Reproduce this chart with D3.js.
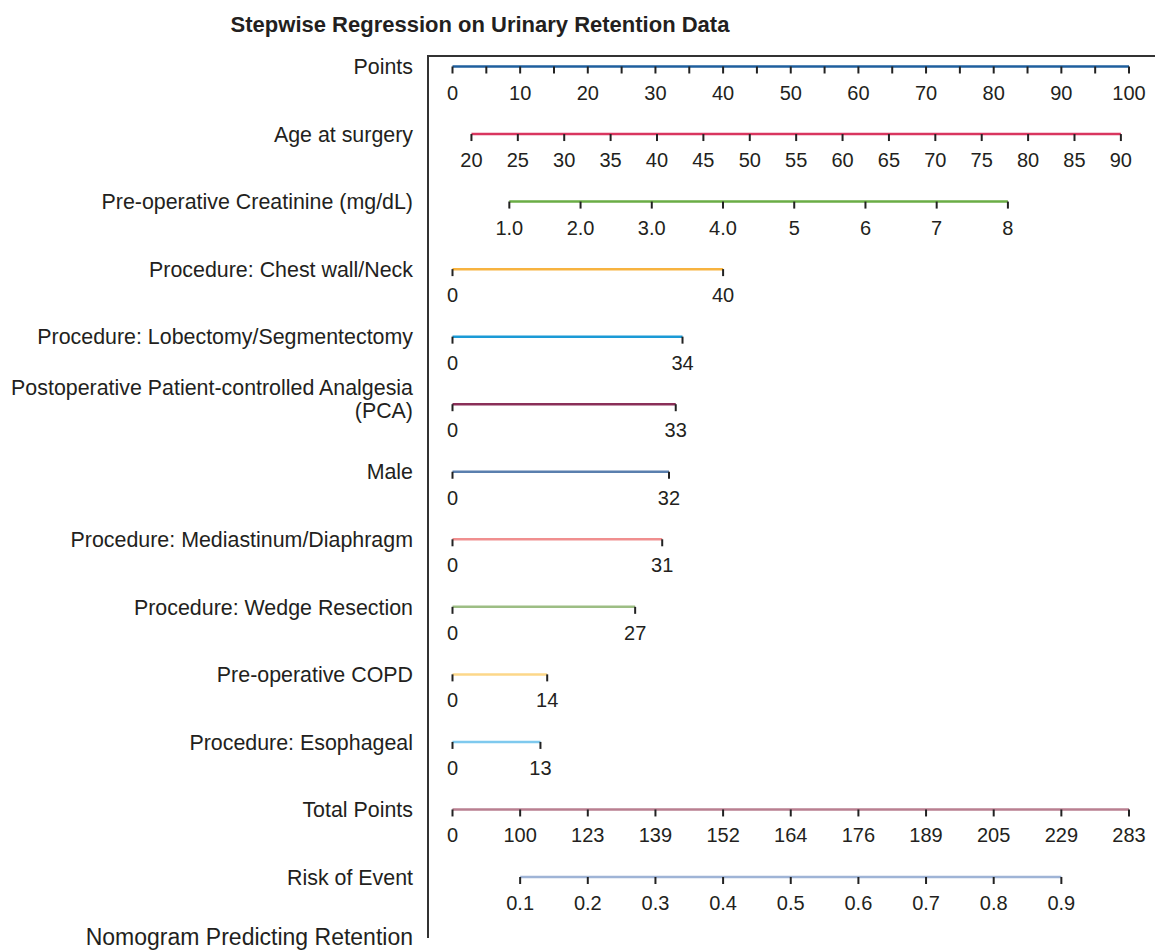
<!DOCTYPE html>
<html>
<head>
<meta charset="utf-8">
<script src="https://cdn.jsdelivr.net/npm/d3@7/dist/d3.min.js"></script>
<style>
  html, body { margin: 0; padding: 0; background: #ffffff; }
  svg { display: block; }
  text { font-family: "Liberation Sans", Arial, Helvetica, sans-serif; fill: #231f20; }
</style>
</head>
<body>
<svg id="chart" width="1155" height="951"></svg>
<script>
// ---- nomogram content ----
const title = "Stepwise Regression on Urinary Retention Data";
const footer = "Nomogram Predicting Retention";

const rowNames = [
  "Points",
  "Age at surgery",
  "Pre-operative Creatinine (mg/dL)",
  "Procedure: Chest wall/Neck",
  "Procedure: Lobectomy/Segmentectomy",
  "Postoperative Patient-controlled Analgesia|(PCA)",
  "Male",
  "Procedure: Mediastinum/Diaphragm",
  "Procedure: Wedge Resection",
  "Pre-operative COPD",
  "Procedure: Esophageal",
  "Total Points",
  "Risk of Event"
];

// Points scale ticks
const pointsTicks = [0, 5, 10, 15, 20, 25, 30, 35, 40, 45, 50, 55, 60, 65, 70, 75, 80, 85, 90, 95, 100];
const pointsLabels = [0, 10, 20, 30, 40, 50, 60, 70, 80, 90, 100];

// Age at surgery: value range and the points it spans
const ageTicks = [20, 25, 30, 35, 40, 45, 50, 55, 60, 65, 70, 75, 80, 85, 90];
const agePoints = [2.8, 98.8];

// Creatinine: value range and the points it spans
const creatTicks = [1, 2, 3, 4, 5, 6, 7, 8];
const creatLabels = ["1.0", "2.0", "3.0", "4.0", "5", "6", "7", "8"];
const creatPoints = [8.4, 82.1];

// Binary predictors: points when present
const binaryNames = [
  "Procedure: Chest wall/Neck",
  "Procedure: Lobectomy/Segmentectomy",
  "Postoperative Patient-controlled Analgesia|(PCA)",
  "Male",
  "Procedure: Mediastinum/Diaphragm",
  "Procedure: Wedge Resection",
  "Pre-operative COPD",
  "Procedure: Esophageal"
];
const binaryPoints = [40, 34, 33, 32, 31, 27, 14, 13];

// Total points and risk scales
const totalTicks = ["0", "100", "123", "139", "152", "164", "176", "189", "205", "229", "283"];
const riskTicks = ["0.1", "0.2", "0.3", "0.4", "0.5", "0.6", "0.7", "0.8", "0.9"];

const rowColors = {
  "Points": "#1f5f9e",
  "Age at surgery": "#d9365f",
  "Pre-operative Creatinine (mg/dL)": "#6aad45",
  "Procedure: Chest wall/Neck": "#f7b340",
  "Procedure: Lobectomy/Segmentectomy": "#1b9ad6",
  "Postoperative Patient-controlled Analgesia|(PCA)": "#8a2f58",
  "Male": "#5a7fae",
  "Procedure: Mediastinum/Diaphragm": "#f08f8f",
  "Procedure: Wedge Resection": "#9dbe84",
  "Pre-operative COPD": "#fcd789",
  "Procedure: Esophageal": "#7ec9ee",
  "Total Points": "#b97f90",
  "Risk of Event": "#9fb4d6"
};

// ---- layout ----
const svg = d3.select("#chart");
const frameX = 428, frameTop = 56, frameBottom = 938;
const labelX = 413;
const tickLen = 7, labelOffset = 33;

const x = d3.scaleLinear().domain([0, 100]).range([452.5, 1129]);
const y = d3.scalePoint().domain(rowNames).range([66.5, 877]);

const xAge = d3.scaleLinear().domain([ageTicks[0], ageTicks[ageTicks.length - 1]])
  .range(agePoints.map(x));
const xCreat = d3.scaleLinear().domain([creatTicks[0], creatTicks[creatTicks.length - 1]])
  .range(creatPoints.map(x));
const xTotal = d3.scalePoint().domain(totalTicks).range(x.range());
const xRisk = d3.scalePoint().domain(riskTicks)
  .range([xTotal(totalTicks[1]), xTotal(totalTicks[totalTicks.length - 2])]);

// title
svg.append("text")
  .attr("x", 480).attr("y", 32)
  .attr("text-anchor", "middle")
  .style("font-size", "22px").style("font-weight", "bold")
  .text(title);

// frame
svg.append("path")
  .attr("d", `M${frameX},${frameBottom}V${frameTop}H1155`)
  .attr("fill", "none").attr("stroke", "#333333").attr("stroke-width", 2);

// row labels
rowNames.forEach(name => {
  const lines = name.split("|");
  const t = svg.append("text")
    .attr("x", labelX)
    .attr("text-anchor", "end")
    .style("font-size", "21.4px");
  if (lines.length === 1) {
    t.attr("y", y(name)).attr("dy", "0.36em").text(name);
  } else {
    lines.forEach((ln, i) => {
      t.append("tspan").attr("x", labelX)
        .attr("y", y(name) - 17 + i * 23).attr("dy", "0.36em").text(ln);
    });
  }
});

svg.append("text")
  .attr("x", labelX).attr("y", 937).attr("dy", "0.36em")
  .attr("text-anchor", "end")
  .style("font-size", "23px")
  .text(footer);

// draws one nomogram axis: coloured line, dark ticks, labels beneath
function drawAxis(rowName, scale, tickValues, labelValues, labelText) {
  const yy = y(rowName);
  const g = svg.append("g");
  const ext = d3.extent(tickValues.map(scale));
  g.append("line")
    .attr("x1", ext[0]).attr("x2", ext[1])
    .attr("y1", yy).attr("y2", yy)
    .attr("stroke", rowColors[rowName]).attr("stroke-width", 2.5);
  g.selectAll("line.tick").data(tickValues).join("line")
    .attr("class", "tick")
    .attr("x1", d => scale(d)).attr("x2", d => scale(d))
    .attr("y1", yy).attr("y2", yy + tickLen)
    .attr("stroke", "#222222").attr("stroke-width", 2);
  g.selectAll("text").data(labelValues).join("text")
    .attr("x", d => scale(d))
    .attr("y", yy + labelOffset)
    .attr("text-anchor", "middle")
    .style("font-size", "20px")
    .text((d, i) => labelText ? labelText[i] : d);
}

drawAxis("Points", x, pointsTicks, pointsLabels);
drawAxis("Age at surgery", xAge, ageTicks, ageTicks);
drawAxis("Pre-operative Creatinine (mg/dL)", xCreat, creatTicks, creatTicks, creatLabels);
binaryNames.forEach((name, i) => {
  drawAxis(name, x, [0, binaryPoints[i]], [0, binaryPoints[i]]);
});
drawAxis("Total Points", xTotal, totalTicks, totalTicks);
drawAxis("Risk of Event", xRisk, riskTicks, riskTicks);
</script>
</body>
</html>
